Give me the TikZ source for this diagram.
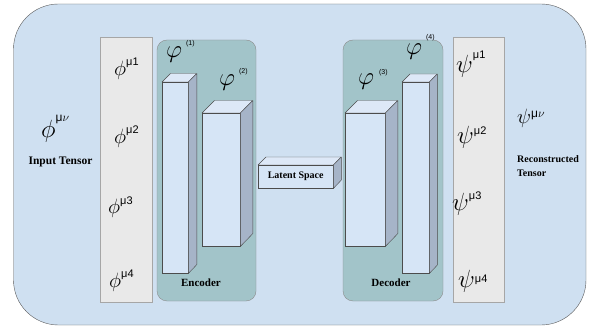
\documentclass[tikz,border=0pt]{standalone}
\usepackage{amsmath}
\usepackage{fontspec}
\setmainfont{Liberation Serif}
\setsansfont{Liberation Sans}
\usetikzlibrary{positioning}

\definecolor{paleblue}{HTML}{CFE0F1}
\definecolor{colgray}{HTML}{E9E9E9}
\definecolor{teal2}{HTML}{A2C4C9}
\definecolor{layerfront}{HTML}{D6E5F6}
\definecolor{layertop}{HTML}{DDE8F7}
\definecolor{layerside}{HTML}{A6B4C8}

\tikzstyle{frame} = [draw=black!65, fill=paleblue, rounded corners=45pt]
\tikzstyle{column} = [draw=black!35, fill=colgray, rectangle, inner sep=0pt]
\tikzstyle{coder} = [draw=black!45, fill=teal2, rectangle, rounded corners=10pt, inner sep=0pt]
\tikzstyle{front} = [draw=black!70, fill=layerfront, rectangle, inner sep=0pt, anchor=north west]
\tikzstyle{face} = [draw=black!70, line join=round]
\tikzstyle{tag} = [inner sep=0pt, font=\bfseries\fontsize{11}{13}\selectfont]
\tikzstyle{comp} = [inner sep=0pt, anchor=base west, font=\fontsize{22}{24}\selectfont]
\tikzstyle{compb} = [comp, font=\fontsize{23}{25}\selectfont]
\tikzstyle{weight} = [inner sep=0pt, anchor=base west, font=\fontsize{24}{26}\selectfont]

% cuboid: name, top-left corner, width, height, depth
\newcommand{\layerblock}[6]{%
  \node[front, minimum width=#4, minimum height=#5] (#1) at (#2,#3) {};
  \draw[face, fill=layertop] (#1.north west) -- ++(#6,-#6) -- ++(#4,0)
    -- (#1.north east) -- cycle;
  \draw[face, fill=layerside] (#1.north east) -- ++(#6,-#6) -- ++(0,#5)
    -- (#1.south east) -- cycle;
}
% raised index in sans: raise, size, text
\newcommand{\idx}[3]{\raisebox{#1}{\sffamily\fontsize{#2}{#2}\selectfont #3}}

\begin{document}
\begin{tikzpicture}[x=1pt, y=-1pt]
  \useasboundingbox (0,0) rectangle (596,328);
  \draw[frame] (13.5,4) rectangle (586,325);

  % input / output columns
  \node[column, minimum width=52, minimum height=265] (incol) at (126,169.5) {};
  \node[column, minimum width=51, minimum height=265] (outcol) at (478.5,169.5) {};

  % encoder and decoder panels
  \node[coder, minimum width=99, minimum height=261] (enc) at (206.5,170.5) {};
  \node[coder, minimum width=100, minimum height=261] (dec) at (393,170.5) {};

  \layerblock{l1}{162}{82}{26}{191}{8.5}
  \layerblock{l2}{202}{113}{38}{133}{12.5}
  \layerblock{lat}{258}{165}{75}{23}{8}
  \layerblock{l3}{345}{113}{40}{133}{12.5}
  \layerblock{l4}{402}{82}{27}{191}{8}

  \node[tag, font=\bfseries\fontsize{10}{12}\selectfont] (latlbl) at (lat.center) {Latent Space};
  \node[tag, anchor=base] (enclbl) at (201,287) {Encoder};
  \node[tag, anchor=base] (declbl) at (391,287) {Decoder};

  % tensors
  \node[weight, font=\fontsize{28}{30}\selectfont] (phi) at (41,137.5)
    {$\phi$\idx{15.5pt}{12}{μ$\nu$}};
  \node[tag, anchor=base, font=\bfseries\fontsize{11.5}{13}\selectfont] (intag) at (60.5,165) {Input Tensor};
  \node[weight, font=\fontsize{21}{23}\selectfont] (psi) at (517,124)
    {$\psi$\idx{6pt}{12}{μ$\nu$}};
  \node[tag, font=\bfseries\fontsize{10}{14}\selectfont, align=left, anchor=north west] (outtag) at (517,155) {Reconstructed\\Tensor};

  \node[comp] (p1) at (114,75.7) {$\phi$\idx{10.5pt}{11}{μ1}};
  \node[comp] (p2) at (114,143.7) {$\phi$\idx{10.5pt}{11}{μ2}};
  \node[comp] (p3) at (108,213.7) {$\phi$\idx{8.7pt}{11}{μ3}};
  \node[comp] (p4) at (109,287.7) {$\phi$\idx{10.5pt}{11}{μ4}};

  \node[compb] (q1) at (456,72.5) {$\psi$\idx{14pt}{11}{μ1}};
  \node[compb] (q2) at (457,143.5) {$\psi$\idx{8.5pt}{11}{μ2}};
  \node[compb] (q3) at (452,210.5) {$\psi$\idx{10.5pt}{11}{μ3}};
  \node[compb] (q4) at (458,287.5) {$\psi$\idx{5.5pt}{11}{μ4}};

  % layer weights
  \node[weight] (w1) at (166,57.5) {$\varphi$\,\idx{12pt}{7}{(1)}};
  \node[weight] (w2) at (219,85.3) {$\varphi$\hspace{4pt}\idx{12pt}{7}{(2)}};
  \node[weight] (w3) at (358,84.3) {$\varphi$\hspace{5pt}\idx{9.3pt}{7}{(3)}};
  \node[weight] (w4) at (406,55) {$\varphi$\,\idx{15.5pt}{7}{(4)}};
\end{tikzpicture}
\end{document}
